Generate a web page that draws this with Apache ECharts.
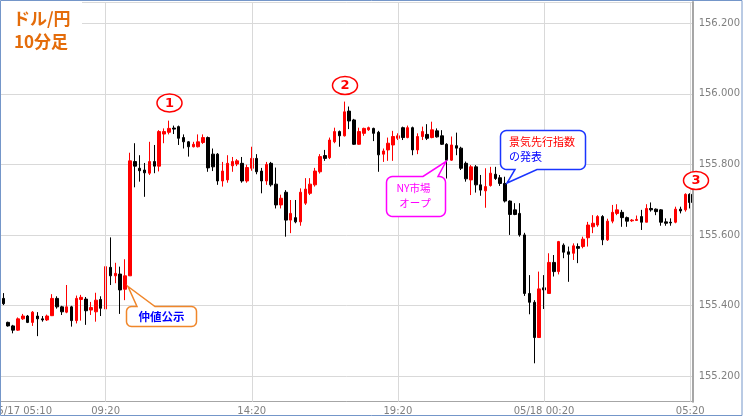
<!DOCTYPE html>
<html><head><meta charset="utf-8">
<script src="https://cdn.jsdelivr.net/npm/echarts/dist/echarts.min.js"></script>
<style>html,body{margin:0;padding:0;background:#fff}#c{width:743px;height:417px}</style>
</head><body><div id="c"></div>
<script>
// 10-minute USD/JPY candles, first bar 05/17 05:50
const openPrices = [
155.420,155.352,155.342,155.330,155.362,155.370,155.352,155.370,155.362,155.359,
155.371,155.420,155.396,155.381,155.396,155.357,155.417,155.418,155.387,155.382,
155.417,155.390,155.508,155.484,155.489,155.446,155.484,155.808,155.789,155.784,
155.775,155.808,155.795,155.886,155.891,155.903,155.907,155.876,155.864,155.850,
155.850,155.862,155.876,155.829,155.829,155.753,155.756,155.796,155.801,155.803,
155.753,155.789,155.817,155.781,155.753,155.803,155.744,155.685,155.721,155.642,
155.649,155.637,155.690,155.718,155.742,155.779,155.825,155.819,155.864,155.893,
155.881,155.951,155.926,155.857,155.888,155.898,155.902,155.891,155.829,155.841,
155.855,155.874,155.904,155.876,155.904,155.841,155.879,155.885,155.876,155.895,
155.881,155.857,155.812,155.853,155.846,155.803,155.756,155.793,155.742,155.725,
155.740,155.772,155.762,155.746,155.696,155.671,155.661,155.600,155.434,155.409,
155.309,155.450,155.434,155.522,155.496,155.571,155.552,155.548,155.567,155.567,
155.592,155.623,155.628,155.652,155.586,155.639,155.661,155.664,155.649,155.640,
155.641,155.652,155.636,155.675,155.673,155.671,155.637,155.636,155.636,155.673,
155.671,155.715];
const closePrices = [
155.405,155.342,155.330,155.362,155.370,155.352,155.381,155.362,155.359,155.370,
155.420,155.396,155.382,155.396,155.357,155.420,155.423,155.385,155.394,155.415,
155.392,155.510,155.484,155.491,155.444,155.484,155.810,155.795,155.782,155.776,
155.808,155.795,155.893,155.893,155.902,155.900,155.874,155.864,155.850,155.857,
155.864,155.876,155.790,155.793,155.753,155.781,155.803,155.808,155.810,155.753,
155.791,155.817,155.779,155.753,155.800,155.742,155.685,155.704,155.642,155.661,
155.637,155.721,155.730,155.744,155.781,155.822,155.817,155.869,155.893,155.881,
155.949,155.923,155.857,155.893,155.902,155.904,155.888,155.827,155.838,155.860,
155.879,155.881,155.876,155.904,155.841,155.879,155.893,155.874,155.898,155.878,
155.857,155.812,155.855,155.846,155.789,155.759,155.793,155.742,155.727,155.737,
155.775,155.760,155.746,155.696,155.658,155.658,155.600,155.434,155.409,155.309,
155.447,155.444,155.522,155.496,155.581,155.551,155.545,155.569,155.562,155.588,
155.628,155.633,155.652,155.586,155.639,155.664,155.671,155.649,155.639,155.642,
155.644,155.636,155.675,155.671,155.666,155.636,155.633,155.634,155.673,155.668,
155.715,155.692];
const lowPrices = [
155.401,155.340,155.321,155.328,155.359,155.350,155.342,155.313,155.354,155.356,
155.370,155.391,155.373,155.378,155.340,155.349,155.357,155.345,155.373,155.354,
155.370,155.388,155.458,155.463,155.376,155.415,155.484,155.735,155.751,155.708,
155.770,155.775,155.780,155.860,155.885,155.886,155.855,155.845,155.822,155.848,
155.848,155.858,155.779,155.781,155.742,155.737,155.748,155.779,155.795,155.748,
155.748,155.782,155.772,155.718,155.742,155.737,155.675,155.675,155.595,155.605,
155.633,155.626,155.685,155.713,155.737,155.774,155.810,155.815,155.860,155.850,
155.879,155.900,155.855,155.855,155.881,155.895,155.866,155.779,155.807,155.810,
155.810,155.869,155.869,155.874,155.826,155.829,155.869,155.869,155.874,155.876,
155.855,155.760,155.810,155.826,155.784,155.751,155.713,155.720,155.711,155.677,
155.737,155.756,155.739,155.692,155.600,155.656,155.595,155.427,155.375,155.236,
155.309,155.390,155.434,155.482,155.488,155.534,155.467,155.529,155.520,155.562,
155.567,155.605,155.623,155.571,155.583,155.633,155.656,155.623,155.623,155.637,
155.640,155.614,155.636,155.666,155.656,155.626,155.626,155.626,155.633,155.661,
155.666,155.675];
const highPrices = [
155.435,155.354,155.345,155.366,155.376,155.373,155.384,155.381,155.370,155.374,
155.432,155.426,155.399,155.458,155.399,155.428,155.430,155.424,155.410,155.436,
155.426,155.513,155.593,155.521,155.510,155.531,155.833,155.860,155.826,155.804,
155.864,155.855,155.897,155.902,155.924,155.910,155.910,155.885,155.866,155.864,
155.885,155.885,155.879,155.845,155.832,155.807,155.826,155.821,155.815,155.821,
155.799,155.850,155.829,155.790,155.807,155.807,155.791,155.714,155.727,155.699,
155.699,155.732,155.761,155.761,155.790,155.829,155.841,155.876,155.904,155.896,
155.978,155.964,155.929,155.904,155.904,155.907,155.904,155.895,155.845,155.876,
155.895,155.888,155.907,155.910,155.907,155.888,155.907,155.914,155.921,155.902,
155.897,155.860,155.879,155.890,155.850,155.808,155.798,155.798,155.770,155.789,
155.793,155.793,155.770,155.765,155.698,155.690,155.690,155.606,155.486,155.415,
155.496,155.486,155.548,155.543,155.583,155.576,155.567,155.576,155.576,155.595,
155.637,155.656,155.656,155.656,155.646,155.685,155.687,155.671,155.652,155.645,
155.655,155.671,155.687,155.692,155.675,155.673,155.647,155.647,155.680,155.680,
155.718,155.718];

const tickCategories = ['05/17 09:20','05/17 14:20','05/17 19:20','05/18 00:20','05/18 05:20'];
const tickLabels = ['09:20','14:20','19:20','05/18 00:20','05:20'];
const firstAxisLabel = '05/17 05:10';

// category names: one per 10-minute bar
const categories = [];
for (let i = 0; i < openPrices.length; i++) {
  const m = 5 * 60 + 50 + i * 10;
  const day = m >= 1440 ? 18 : 17;
  const mm = m % 1440;
  categories.push('05/' + day + ' ' + String(Math.floor(mm / 60)).padStart(2, '0') + ':' + String(mm % 60).padStart(2, '0'));
}
const candleData = categories.map((c, i) => [openPrices[i], closePrices[i], lowPrices[i], highPrices[i]]);

const AX = '#808080';
const JP = '"Noto Sans CJK JP", sans-serif';

// rounded box outline with a pointer, as polygon points
function callout(L, T, R, B, r, side, p1, tip, p2) {
  const pts = [];
  function arc(cx, cy, a0, a1) {
    for (let k = 0; k <= 6; k++) {
      const a = a0 + (a1 - a0) * k / 6;
      pts.push([cx + r * Math.cos(a), cy + r * Math.sin(a)]);
    }
  }
  const PI = Math.PI;
  arc(L + r, T + r, PI, 1.5 * PI);
  if (side === 'top') { pts.push([p1, T]); pts.push(tip); pts.push([p2, T]); }
  arc(R - r, T + r, 1.5 * PI, 2 * PI);
  arc(R - r, B - r, 0, 0.5 * PI);
  if (side === 'bottom') { pts.push([p1, B]); pts.push(tip); pts.push([p2, B]); }
  arc(L + r, B - r, 0.5 * PI, PI);
  return pts;
}

const chart = echarts.init(document.getElementById('c'), null, {renderer: 'canvas'});
chart.setOption({
  animation: false,
  backgroundColor: '#ffffff',
  grid: {left: 0.86, right: 48.2, top: 2, bottom: 15.3},
  xAxis: {
    type: 'category',
    data: categories,
    boundaryGap: true,
    axisLine: {lineStyle: {color: '#a6a6a6', width: 1}},
    axisTick: {show: false},
    splitLine: {show: false},
    axisLabel: {
      interval: (idx, val) => tickCategories.indexOf(val) >= 0,
      formatter: (val) => { const k = tickCategories.indexOf(val); return k >= 0 ? tickLabels[k] : ''; },
      color: AX, fontSize: 10, fontFamily: 'DejaVu Sans', margin: 5
    }
  },
  yAxis: {
    type: 'value',
    position: 'right',
    min: 155.1271, max: 156.2604,
    splitNumber: 5,
    scale: true,
    axisLine: {show: true, lineStyle: {color: '#a6a6a6', width: 2}},
    axisTick: {show: false},
    splitLine: {lineStyle: {color: '#d9d9d9', width: 1}},
    axisLabel: {
      showMinLabel: false, showMaxLabel: false,
      formatter: (v) => v.toFixed(3),
      color: AX, fontSize: 10, fontFamily: 'DejaVu Sans', margin: 6
    }
  },
  series: [
    {
      type: 'line', data: categories.map(() => null), silent: true, z: 1, symbol: 'none',
      markLine: {
        silent: true, symbol: ['none', 'none'], animation: false,
        label: {show: false},
        lineStyle: {color: '#d9d9d9', width: 1, type: 'solid'},
        data: tickCategories.map(c => ({xAxis: c}))
      }
    },
    {
      type: 'candlestick', z: 3,
      data: candleData,
      barWidth: 3,
      itemStyle: {color: '#ff0000', color0: '#000000', borderColor: '#ff0000', borderColor0: '#000000', borderWidth: 1}
    }
  ],
  graphic: {elements: [
    // title box
    {type: 'rect', z: 50, shape: {x: 1, y: 1, width: 81, height: 52}, style: {fill: '#ffffff'}},
    {type: 'text', z: 51, style: {text: 'ドル/円', x: 13, y: 19, fill: '#e46c0a', font: 'bold 17px ' + JP, textAlign: 'left', textVerticalAlign: 'middle'}},
    {type: 'text', z: 51, style: {text: '10分足', x: 14, y: 42, fill: '#e46c0a', font: 'bold 17px ' + JP, textAlign: 'left', textVerticalAlign: 'middle'}},
    // first (cut) x label
    {type: 'text', z: 51, style: {text: firstAxisLabel, x: 52, y: 411.7, fill: AX, font: '10px "DejaVu Sans"', textAlign: 'right', textVerticalAlign: 'middle'}},
    // numbered circles
    {type: 'ellipse', z: 52, shape: {cx: 169.5, cy: 103, rx: 12.5, ry: 9}, style: {fill: '#ffffff', stroke: '#ff0000', lineWidth: 1.5}},
    {type: 'text', z: 53, style: {text: '1', x: 169.5, y: 103.5, fill: '#ff0000', font: 'bold 13px "DejaVu Sans"', textAlign: 'center', textVerticalAlign: 'middle'}},
    {type: 'ellipse', z: 52, shape: {cx: 345, cy: 85.5, rx: 12.5, ry: 9}, style: {fill: '#ffffff', stroke: '#ff0000', lineWidth: 1.5}},
    {type: 'text', z: 53, style: {text: '2', x: 345, y: 86, fill: '#ff0000', font: 'bold 13px "DejaVu Sans"', textAlign: 'center', textVerticalAlign: 'middle'}},
    {type: 'ellipse', z: 52, shape: {cx: 696, cy: 180.5, rx: 12.5, ry: 9}, style: {fill: '#ffffff', stroke: '#ff0000', lineWidth: 1.5}},
    {type: 'text', z: 53, style: {text: '3', x: 696, y: 181, fill: '#ff0000', font: 'bold 13px "DejaVu Sans"', textAlign: 'center', textVerticalAlign: 'middle'}},
    // callout: 仲値公示
    {type: 'polygon', z: 52, shape: {points: callout(126.5, 306.5, 196.5, 326.5, 5, 'top', 137, [128, 286.5], 155)}, style: {fill: '#ffffff', stroke: '#f0862a', lineWidth: 1.5}},
    {type: 'text', z: 53, style: {text: '仲値公示', x: 161.5, y: 316.5, fill: '#0000ff', font: 'bold 11.5px ' + JP, textAlign: 'center', textVerticalAlign: 'middle'}},
    // callout: NY市場 オープ
    {type: 'polygon', z: 52, shape: {points: callout(386.5, 176.5, 445.5, 216.5, 6, 'top', 423, [446, 161.5], 438)}, style: {fill: '#ffffff', stroke: '#ff00ff', lineWidth: 1.5}},
    {type: 'text', z: 53, style: {text: 'NY市場', x: 413.5, y: 188.5, fill: '#ff00ff', font: '10.5px ' + JP, textAlign: 'center', textVerticalAlign: 'middle'}},
    {type: 'text', z: 53, style: {text: 'オープ', x: 415, y: 203, fill: '#ff00ff', font: '10.5px ' + JP, textAlign: 'center', textVerticalAlign: 'middle'}},
    // callout: 景気先行指数 の発表
    {type: 'polygon', z: 52, shape: {points: callout(500.5, 130.5, 585.5, 169.5, 6, 'bottom', 537, [507, 183], 515)}, style: {fill: '#ffffff', stroke: '#1a35ff', lineWidth: 1.5}},
    {type: 'text', z: 53, style: {text: '景気先行指数', x: 509, y: 141.7, fill: '#ff0000', font: '11px ' + JP, textAlign: 'left', textVerticalAlign: 'middle'}},
    {type: 'text', z: 53, style: {text: 'の発表', x: 509, y: 156.7, fill: '#0000ff', font: '11px ' + JP, textAlign: 'left', textVerticalAlign: 'middle'}},
    // outer border
    {type: 'rect', z: 60, shape: {x: 0.5, y: 0.5, width: 741.5, height: 415}, style: {fill: null, stroke: '#7496c9', lineWidth: 1}}
  ]}
});
</script></body></html>
